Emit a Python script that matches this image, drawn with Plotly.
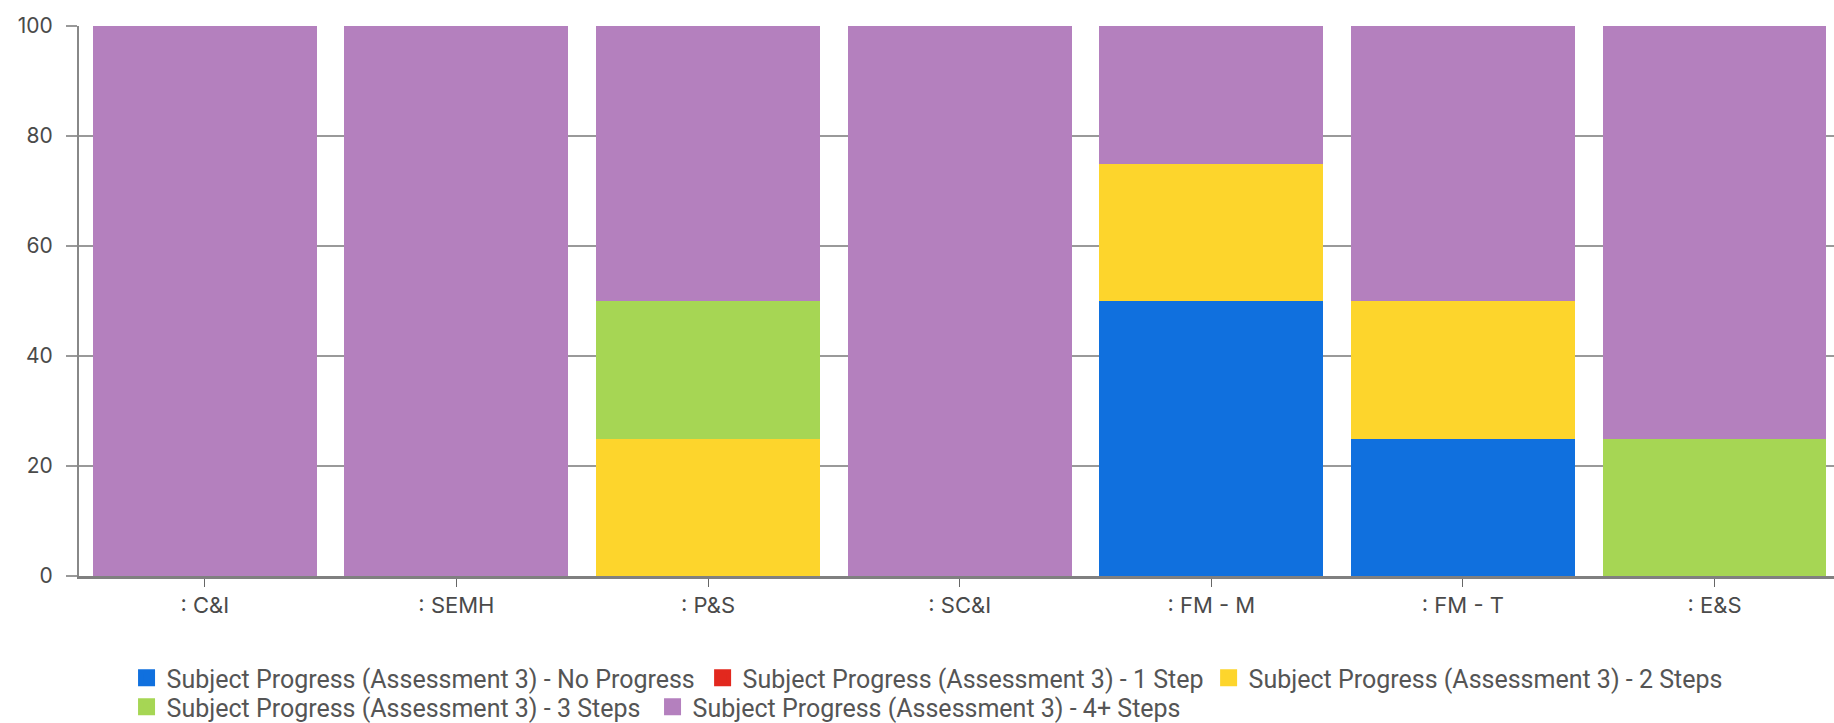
import plotly.graph_objects as go

# Categories on the x axis
categories = [": C&I", ": SEMH", ": P&S", ": SC&I", ": FM - M", ": FM - T", ": E&S"]

# Percentage of pupils in each progress band, per category
no_progress = [0, 0, 0, 0, 50, 25, 0]
one_step = [0, 0, 0, 0, 0, 0, 0]
two_steps = [0, 0, 25, 0, 25, 25, 0]
three_steps = [0, 0, 25, 0, 0, 0, 25]
four_plus_steps = [100, 100, 50, 100, 25, 50, 75]

series_names = [
    "Subject Progress (Assessment 3) - No Progress",
    "Subject Progress (Assessment 3) - 1 Step",
    "Subject Progress (Assessment 3) - 2 Steps",
    "Subject Progress (Assessment 3) - 3 Steps",
    "Subject Progress (Assessment 3) - 4+ Steps",
]
series_values = [no_progress, one_step, two_steps, three_steps, four_plus_steps]
series_colors = ["#1070DE", "#E2281E", "#FDD52C", "#A6D654", "#B480BE"]

y_ticks = [0, 20, 40, 60, 80, 100]

# legend entry placement (fractions of the whole figure): left edge of each entry,
# and the vertical centre of the row it sits in
legend_x = [0.0690, 0.3831, 0.6590, 0.0690, 0.3558]
legend_row = [0, 0, 0, 1, 1]
row_y = [0.0622, 0.0221]

fig = go.Figure()

# stacked bars
for name, vals, color in zip(series_names, series_values, series_colors):
    fig.add_trace(go.Bar(
        x=categories,
        y=vals,
        name=name,
        marker=dict(color=color, line=dict(width=0)),
        showlegend=False,
        hoverinfo="x+y+name",
    ))

# legend entries (empty bars with a thick same-colour outline for a larger swatch)
for i, (name, color) in enumerate(zip(series_names, series_colors)):
    fig.add_trace(go.Bar(
        x=categories,
        y=[None] * len(categories),
        name=name,
        marker=dict(color=color, line=dict(color=color, width=5)),
        legend="legend" if i == 0 else f"legend{i + 1}",
        hoverinfo="skip",
    ))

axis_font = dict(family="Inter, Lato, sans-serif", size=22, color="#4a4a4a")
ytick_font = dict(family="Inter, Lato, sans-serif", size=21, color="#4a4a4a")
legend_font = dict(family="Roboto, sans-serif", size=25, color="#555555")

legends = {}
for i, (lx, row) in enumerate(zip(legend_x, legend_row)):
    key = "legend" if i == 0 else f"legend{i + 1}"
    legends[key] = dict(
        orientation="h",
        xref="container", yref="container",
        x=lx, xanchor="left",
        y=row_y[row], yanchor="middle",
        font=legend_font,
        bgcolor="rgba(0,0,0,0)",
        itemclick=False, itemdoubleclick=False,
    )

fig.update_layout(
    barmode="stack",
    bargap=0.11,
    width=1834,
    height=723,
    margin=dict(l=79, r=0, t=26, b=147),
    paper_bgcolor="white",
    plot_bgcolor="white",
    showlegend=True,
    xaxis=dict(
        range=[-0.5, 6.475],
        showgrid=False,
        showline=True,
        linecolor="#808080",
        linewidth=3,
        ticks="outside",
        ticklen=8,
        tickwidth=1,
        tickcolor="#666666",
        tickfont=axis_font,
        zeroline=False,
    ),
    yaxis=dict(
        range=[0, 100],
        tickvals=y_ticks,
        showgrid=True,
        gridcolor="#999999",
        gridwidth=2,
        showline=True,
        mirror=True,
        linecolor="#888888",
        linewidth=2,
        ticks="outside",
        ticklen=11,
        tickwidth=2,
        tickcolor="#999999",
        tickfont=ytick_font,
        ticklabelstandoff=9,
        automargin=False,
        zeroline=False,
    ),
    **legends,
)

fig.write_html("out.html", config={"displayModeBar": False})
